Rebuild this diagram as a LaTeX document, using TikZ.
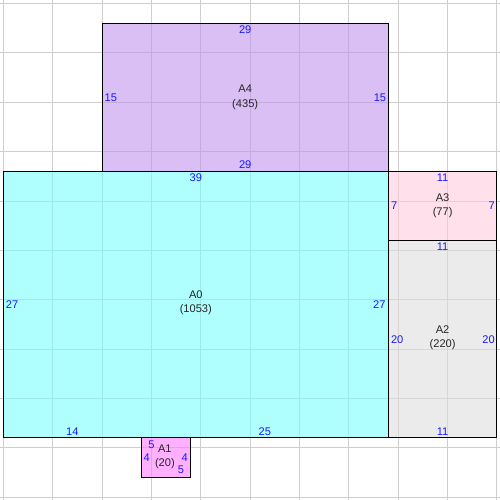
\documentclass[tikz,border=0pt]{standalone}
\usepackage{fontspec}
\setmainfont{Liberation Sans}
\definecolor{cA0}{RGB}{122,255,255}
\definecolor{cA1}{RGB}{255,123,255}
\definecolor{cA2}{RGB}{222,222,222}
\definecolor{cA3}{RGB}{255,203,222}
\definecolor{cA4}{RGB}{193,148,238}
\definecolor{lblue}{RGB}{25,25,255}
\definecolor{gridc}{RGB}{206,206,206}
\tikzset{
 region/.style={rectangle, inner sep=0pt, outer sep=0pt, draw=none, fill opacity=0.6},
 lab/.style={text=lblue, inner sep=0pt, font=\fontsize{9.6}{11.2}\selectfont},
 areaname/.style={text=black!85, inner sep=0pt, align=center, font=\fontsize{9.6}{12.2}\selectfont},
 border/.style={draw=black, line width=0.8pt},
 gridline/.style={draw=gridc, line width=0.75pt}
}
\begin{document}
\begin{tikzpicture}[x=0.3cm,y=-0.3cm]
\useasboundingbox (-0.334,-0.355) rectangle (50.31,50.29);
% grid
\draw[gridline] \foreach \i in {0,5,...,50} {(\i,-1) -- (\i,51) (-1,\i) -- (51,\i)};
% regions (fill)
\node[region, fill=cA4, minimum width=8.7cm, minimum height=4.5cm] (A4) at (24.5,9.5) {};
\node[region, fill=cA0, minimum width=11.7cm, minimum height=8.1cm] (A0) at (19.5,30.5) {};
\node[region, fill=cA3, minimum width=3.3cm, minimum height=2.1cm] (A3) at (44.5,20.5) {};
\node[region, fill=cA2, minimum width=3.3cm, minimum height=6.0cm] (A2) at (44.5,34) {};
\node[region, fill=cA1, minimum width=1.5cm, minimum height=1.2cm] (A1) at (16.5,46) {};
% borders
\foreach \r in {A4,A0,A3,A2,A1} {\draw[border] (\r.north west) rectangle (\r.south east);}
% names
\node[areaname] (nA4) at (A4.center) {A4\\(435)};
\node[areaname] (nA0) at ([yshift=0.05cm]A0.center) {A0\\(1053)};
\node[areaname] (nA3) at (A3.center) {A3\\(77)};
\node[areaname] (nA2) at ([yshift=0.04cm]A2.center) {A2\\(220)};
\node[areaname] (nA1) at ([xshift=-0.04cm,yshift=0.03cm]A1.center) {A1\\(20)};
% A4 labels
\node[lab, anchor=north] (A4t) at ([yshift=-0.08cm]A4.north) {29};
\node[lab, anchor=south] (A4b) at ([yshift=0.07cm]A4.south) {29};
\node[lab, anchor=west] (A4l) at ([xshift=0.075cm]A4.west) {15};
\node[lab, anchor=east] (A4r) at ([xshift=-0.06cm]A4.east) {15};
% A0 labels
\node[lab, anchor=north] (A0t) at ([yshift=-0.08cm]A0.north) {39};
\node[lab, anchor=west] (A0l) at ([xshift=0.075cm]A0.west) {27};
\node[lab, anchor=east] (A0r) at ([xshift=-0.08cm]A0.east) {27};
\coordinate (A0b1) at (7,44);
\coordinate (A0b2) at (26.5,44);
\node[lab, anchor=south] (A0bl) at ([yshift=0.07cm]A0b1) {14};
\node[lab, anchor=south] (A0br) at ([yshift=0.07cm]A0b2) {25};
% A3 labels
\node[lab, anchor=north] (A3t) at ([yshift=-0.08cm]A3.north) {11};
\node[lab, anchor=west] (A3l) at ([xshift=0.075cm]A3.west) {7};
\node[lab, anchor=east] (A3r) at ([xshift=-0.06cm]A3.east) {7};
% A2 labels
\node[lab, anchor=north] (A2t) at ([yshift=-0.08cm]A2.north) {11};
\node[lab, anchor=south] (A2b) at ([yshift=0.07cm]A2.south) {11};
\node[lab, anchor=west] (A2l) at ([xshift=0.075cm]A2.west) {20};
\node[lab, anchor=east] (A2r) at ([xshift=-0.06cm]A2.east) {20};
% A1 labels
\coordinate (A1tp) at (15,44);
\coordinate (A1bp) at (18,48);
\node[lab, anchor=north] (A1t) at ([yshift=-0.08cm]A1tp) {5};
\node[lab, anchor=south] (A1b) at ([yshift=0.11cm]A1bp) {5};
\node[lab, anchor=west] (A1l) at ([xshift=0.06cm]A1.west) {4};
\node[lab, anchor=east] (A1r) at ([xshift=-0.09cm]A1.east) {4};
\end{tikzpicture}
\end{document}
